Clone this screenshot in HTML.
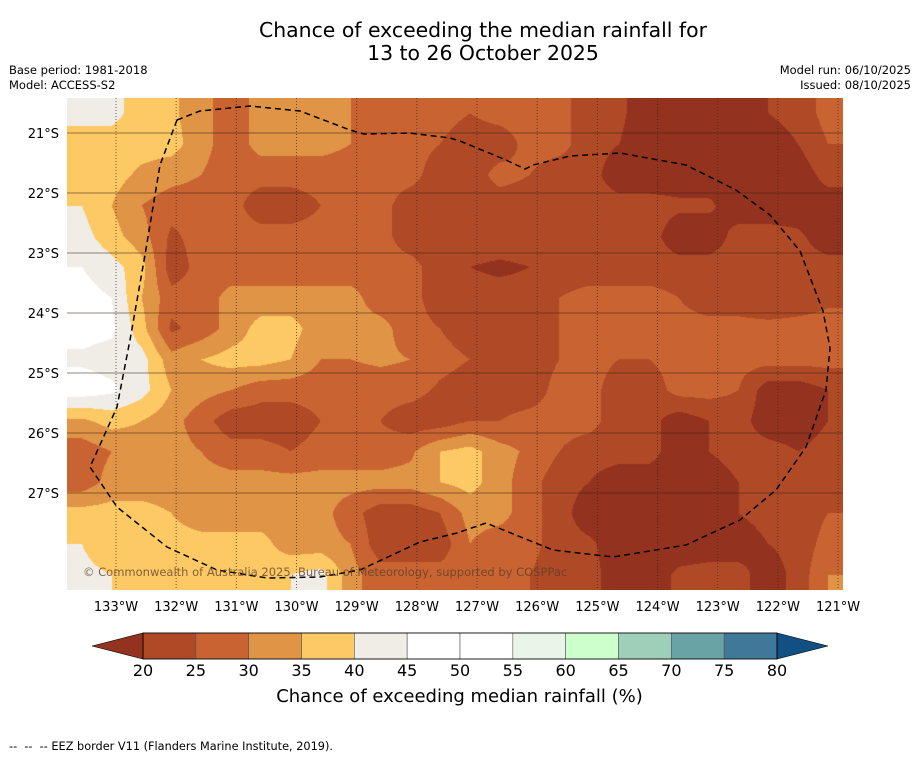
<!DOCTYPE html>
<html><head><meta charset="utf-8">
<style>
body{margin:0;background:#fff;width:919px;height:758px;overflow:hidden;font-family:"DejaVu Sans","Liberation Sans",sans-serif;}
#wrap{position:relative;width:919px;height:758px;}
.t{position:absolute;white-space:nowrap;color:#000;}
</style></head>
<body>
<div id="wrap">
<div class="t" style="left:0;width:966px;text-align:center;top:19px;font-size:20.4px;line-height:23px;">Chance of exceeding the median rainfall for<br>13 to 26 October 2025</div>
<div class="t" style="left:9px;top:63px;font-size:11.5px;line-height:15px;">Base period: 1981-2018<br>Model: ACCESS-S2</div>
<div class="t" style="right:8px;top:63px;font-size:11.5px;line-height:15px;text-align:right;">Model run: 06/10/2025<br>Issued: 08/10/2025</div>
<canvas id="map" width="776" height="492" style="position:absolute;left:67px;top:98px;"></canvas>
<svg id="ov" width="919" height="758" style="position:absolute;left:0;top:0;"></svg>
<div class="t" style="left:83px;top:565px;font-size:11.5px;color:rgba(90,60,40,0.75);">© Commonwealth of Australia 2025, Bureau of Meteorology, supported by COSPPac</div>
<div class="t" style="left:0;width:919px;text-align:center;top:686px;font-size:18px;">Chance of exceeding median rainfall (%)</div>
<div class="t" style="left:9px;top:740px;font-size:11.3px;">--&nbsp; --&nbsp; -- EEZ border V11 (Flanders Marine Institute, 2019).</div>
</div>
<script>
const lonTicks=[133,132,131,130,129,128,127,126,125,124,123,122,121];
const latTicks=[21,22,23,24,25,26,27];
const levels=[20,25,30,35,40,45,50,55,60,65,70,75,80];
const levelColors=["#943220","#b04a26","#c96432","#e09445","#fdc965","#f0ece6","#ffffff","#ffffff","#eaf5ea","#ccffcc","#9dcfb9","#6aa3a5","#3f7898","#124f82"];
const gridRows=[
[42,42,37,36,32,27,32,32,32,30,27,27,27,25,27,27,27,22,21,17,17,17,17,20,22,27],
[37,37,37,37,32,27,32,32,32,30,27,27,25,22,22,27,27,22,20,17,17,17,17,17,20,25],
[37,37,34,32,30,27,27,27,27,27,27,27,22,22,27,25,22,22,17,17,17,17,17,17,17,22],
[40,35,30,27,27,27,22,22,25,27,27,22,22,22,22,22,22,22,22,22,21,21,17,17,17,17],
[42,37,32,24,27,27,27,27,27,27,27,22,22,23,23,23,22,22,22,22,17,17,22,22,21,17],
[45,42,37,22,27,27,27,27,27,27,27,27,22,20,19,20,22,22,22,22,22,22,22,22,22,22],
[47,45,35,27,27,32,32,32,32,32,27,27,22,22,22,22,25,27,27,27,25,22,22,20,22,24],
[47,46,37,24,27,32,37,37,32,32,32,27,25,22,22,22,25,27,27,27,27,27,27,27,27,27],
[44,43,42,32,35,37,37,35,30,30,31,30,27,25,22,22,25,27,25,25,27,27,27,27,27,27],
[48,46,42,35,32,30,27,27,27,27,27,27,24,22,22,22,27,27,22,22,27,27,25,17,17,20],
[34,37,35,32,27,22,22,22,25,27,25,22,22,25,25,27,27,27,22,22,17,20,22,17,17,20],
[27,30,32,32,30,27,27,25,27,27,27,29,35,37,32,29,25,22,22,22,17,20,22,22,20,22],
[27,32,32,32,32,32,32,32,32,32,32,32,35,37,32,27,22,20,17,17,17,17,20,22,22,22],
[37,37,37,35,32,32,32,32,32,27,22,22,25,32,32,27,22,17,17,17,17,17,20,22,22,25],
[40,35,37,37,37,37,37,32,32,30,22,22,22,30,27,27,22,21,17,17,17,17,17,20,22,27],
[42,40,37,37,37,37,37,40,42,32,27,27,27,27,27,25,22,22,17,17,21,22,22,17,22,30]
];
const eezPath=[[177,120],[200,111],[250,106],[300,111],[350,130],[364,134],[410,133],[450,138],[460,141],[506,160],[525,169],[533,165],[570,156],[620,153],[686,165],[736,190],[770,215],[800,251],[823,311],[830,348],[826,390],[806,447],[776,490],[740,520],[686,545],[613,557],[553,550],[486,523],[457,533],[420,542],[360,570],[320,577],[267,578],[217,570],[167,547],[117,507],[90,467],[117,407],[130,340],[145,255],[160,165],[177,120]];

const X0=67,Y0=98,W=776,H=492;
function xLon(l){return 116+(133-l)*60.17;}
function yLat(l){return 133+(l-21)*60;}
function xVal(v){return 143+(v-20)*(634/60);}
function hex(c){return [parseInt(c.slice(1,3),16),parseInt(c.slice(3,5),16),parseInt(c.slice(5,7),16)];}
function colorIdx(v){let i=0;while(i<levels.length&&v>=levels[i])i++;return i;}

const cv=document.getElementById('map');const ctx=cv.getContext('2d');
const img=ctx.createImageData(W,H);
const nr=gridRows.length,nc=gridRows[0].length;
const cw=W/nc,ch=H/nr;
const rgb=levelColors.map(hex);
for(let py=0;py<H;py++){
  let gy=(py+0.5)/ch-0.5;gy=Math.max(0,Math.min(nr-1,gy));
  const r0=Math.floor(gy),r1=Math.min(nr-1,r0+1),fy=gy-r0;
  for(let px=0;px<W;px++){
    let gx=(px+0.5)/cw-0.5;gx=Math.max(0,Math.min(nc-1,gx));
    const c0=Math.floor(gx),c1=Math.min(nc-1,c0+1),fx=gx-c0;
    const v=(gridRows[r0][c0]*(1-fx)+gridRows[r0][c1]*fx)*(1-fy)+(gridRows[r1][c0]*(1-fx)+gridRows[r1][c1]*fx)*fy;
    const c=rgb[colorIdx(v)];const k=(py*W+px)*4;
    img.data[k]=c[0];img.data[k+1]=c[1];img.data[k+2]=c[2];img.data[k+3]=255;
  }
}
ctx.putImageData(img,0,0);

const NS='http://www.w3.org/2000/svg';
const ov=document.getElementById('ov');
function mk(tag,attrs,parent){const e=document.createElementNS(NS,tag);for(const a in attrs)e.setAttribute(a,attrs[a]);(parent||ov).appendChild(e);return e;}
const FF='DejaVu Sans, Liberation Sans, sans-serif';

lonTicks.forEach(l=>{
  const x=xLon(l);
  if(x<X0+W){
    const ln=mk('line',{x1:x,y1:Y0,x2:x,y2:Y0+H,stroke:'#3a2418','stroke-width':1,'stroke-dasharray':'1,2','stroke-opacity':0.7});
    
    
  }
  const t=mk('text',{x:x,y:611,'text-anchor':'middle','font-size':13,'font-family':FF});
  t.textContent=l+'°W';
  
  
});
latTicks.forEach(l=>{
  const y=yLat(l);
  const ln=mk('line',{x1:X0,y1:y,x2:X0+W,y2:y,stroke:'#3a2418','stroke-width':1,'stroke-opacity':0.55});
  
  
  const t=mk('text',{x:59,y:y+5,'text-anchor':'end','font-size':13,'font-family':FF});
  t.textContent=l+'°S';
  
  
});

const eez=mk('polyline',{points:eezPath.map(p=>p.join(',')).join(' '),fill:'none',stroke:'#000','stroke-width':1.5,'stroke-dasharray':'6,4'});



const cbY=633,cbH=26;
for(let i=0;i<levels.length-1;i++){
  const r=mk('rect',{x:xVal(levels[i]),y:cbY,width:xVal(levels[i+1])-xVal(levels[i]),height:cbH,fill:levelColors[i+1],stroke:'#555','stroke-width':0.6});
  
  
}
const lt=mk('polygon',{points:`${xVal(20)},${cbY} ${xVal(20)},${cbY+cbH} 92,${cbY+cbH/2}`,fill:levelColors[0],stroke:'#000','stroke-width':0.6});


const rt=mk('polygon',{points:`${xVal(80)},${cbY} ${xVal(80)},${cbY+cbH} 828,${cbY+cbH/2}`,fill:levelColors[levelColors.length-1],stroke:'#000','stroke-width':0.6});


const ob=mk('rect',{x:xVal(20),y:cbY,width:xVal(80)-xVal(20),height:cbH,fill:'none',stroke:'#000','stroke-width':0.8});


levels.forEach(v=>{
  const t=mk('text',{x:xVal(v),y:676,'text-anchor':'middle','font-size':16,'font-family':FF});
  t.textContent=v;
  
  
});
</script>
</body></html>
